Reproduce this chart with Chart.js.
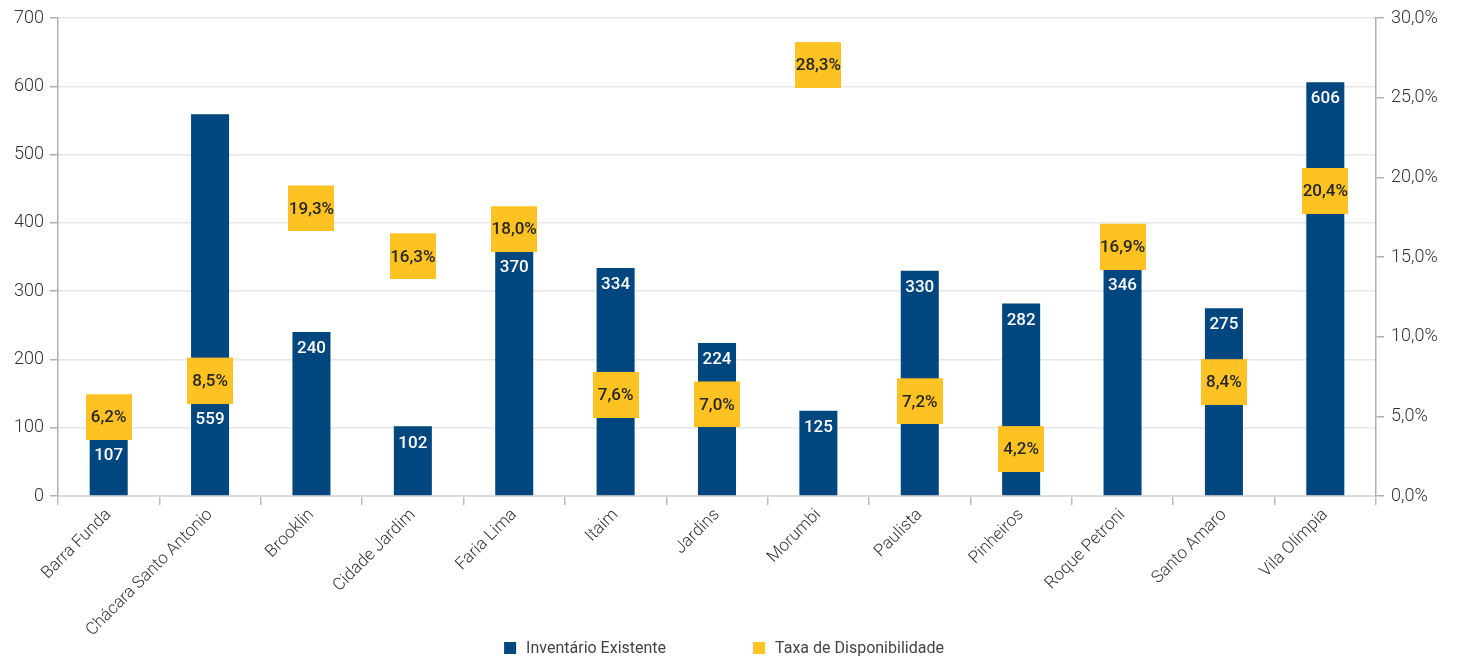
<!DOCTYPE html>
<html>
<head>
<meta charset="utf-8">
<script src="https://cdn.jsdelivr.net/npm/chart.js@4/dist/chart.umd.min.js"></script>
<style>
  html, body { margin: 0; padding: 0; background: #fff; }
  #wrap { width: 1459px; height: 661px; }
</style>
</head>
<body>
<div id="wrap"><canvas id="chart"></canvas></div>
<script>
// ---- data ----
const bairros = ['Barra Funda', 'Chácara Santo Antonio', 'Brooklin', 'Cidade Jardim', 'Faria Lima',
  'Itaim', 'Jardins', 'Morumbi', 'Paulista', 'Pinheiros', 'Roque Petroni', 'Santo Amaro', 'Vila Olímpia'];
const inventario = [107, 559, 240, 102, 370, 334, 224, 125, 330, 282, 346, 275, 606];
const taxaDisp = [6.2, 8.5, 19.3, 16.3, 18.0, 7.6, 7.0, 28.3, 7.2, 4.2, 16.9, 8.4, 20.4];
const leftTicks = [0, 100, 200, 300, 400, 500, 600, 700];
const rightTicks = [0, 5, 10, 15, 20, 25, 30];

const BLUE = '#00467f';
const YELLOW = '#fec222';
const FONT = 'Roboto';
const BOX = 46;        // yellow marker side
const DROP = 20;       // marker sits a little below its value, like the original labels
const labelBelowMarker = new Set(['Chácara Santo Antonio']);

const pct = v => v.toFixed(1).replace('.', ',') + '%';

// square marker drawn into a taller canvas so it hangs under the point
const marker = document.createElement('canvas');
marker.width = BOX;
marker.height = BOX + DROP * 2;
const mctx = marker.getContext('2d');
mctx.fillStyle = YELLOW;
mctx.fillRect(0, DROP * 2, BOX, BOX);

const valueLabels = {
  id: 'valueLabels',
  afterDatasetsDraw(chart) {
    const ctx = chart.ctx;
    const bars = chart.getDatasetMeta(0).data;
    const pts = chart.getDatasetMeta(1).data;
    ctx.save();
    ctx.textAlign = 'center';
    ctx.textBaseline = 'middle';
    ctx.font = `500 17px ${FONT}`;
    ctx.fillStyle = '#ffffff';
    bars.forEach((bar, i) => {
      const boxTop = pts[i].y + DROP - BOX / 2;
      const boxBottom = boxTop + BOX;
      let y = bar.y + 17;
      // move the label under the marker when they would collide
      if (labelBelowMarker.has(bairros[i]) || (y + 9 > boxTop && y - 9 < boxBottom)) y = boxBottom + 16;
      ctx.fillText(String(inventario[i]), bar.x, y);
    });
    ctx.fillStyle = '#262626';
    pts.forEach((p, i) => {
      ctx.fillText(pct(taxaDisp[i]), p.x, p.y + DROP + 1);
    });
    ctx.restore();
  }
};

const bottomLegend = {
  id: 'bottomLegend',
  afterDraw(chart) {
    const ctx = chart.ctx;
    const items = chart.data.datasets.map(d => ({ text: d.label, color: d.legendColor }));
    ctx.save();
    ctx.font = `16px ${FONT}`;
    ctx.textBaseline = 'middle';
    const gap = 87, sq = 12, sp = 10;
    const widths = items.map(it => sq + sp + ctx.measureText(it.text).width);
    const total = widths.reduce((a, b) => a + b, 0) + gap * (items.length - 1);
    let x = 724 - total / 2;
    const y = 648;
    items.forEach((it, i) => {
      ctx.fillStyle = it.color;
      ctx.fillRect(x, y - sq / 2, sq, sq);
      ctx.fillStyle = '#444444';
      ctx.fillText(it.text, x + sq + sp, y + 1);
      x += widths[i] + gap;
    });
    ctx.restore();
  }
};

new Chart(document.getElementById('chart'), {
  type: 'bar',
  data: {
    labels: bairros,
    datasets: [
      {
        type: 'bar',
        label: 'Inventário Existente',
        data: inventario,
        backgroundColor: BLUE,
        legendColor: BLUE,
        categoryPercentage: 1,
        barPercentage: 0.375,
        yAxisID: 'y',
        order: 2
      },
      {
        type: 'line',
        label: 'Taxa de Disponibilidade',
        data: taxaDisp,
        showLine: false,
        pointStyle: marker,
        legendColor: YELLOW,
        yAxisID: 'y2',
        order: 1
      }
    ]
  },
  options: {
    responsive: true,
    maintainAspectRatio: false,
    animation: false,
    events: [],
    layout: { padding: { top: 18, left: 0, right: 0, bottom: 0 } },
    plugins: {
      legend: { display: false },
      tooltip: { enabled: false }
    },
    scales: {
      x: {
        offset: true,
        afterFit: s => { s.height = 165; },
        border: { color: '#dcdcdc', width: 2 },
        grid: { display: true, drawOnChartArea: false, offset: true, tickLength: 9, color: '#bdbdbd', lineWidth: 1.5 },
        ticks: {
          color: '#333333',
          font: { family: FONT, size: 17, weight: 300 },
          minRotation: 45,
          maxRotation: 45,
          autoSkip: false,
          padding: 0
        }
      },
      y: {
        position: 'left',
        min: leftTicks[0],
        max: leftTicks[leftTicks.length - 1],
        afterFit: s => { s.width = 58; },
        afterBuildTicks: s => { s.ticks = leftTicks.map(v => ({ value: v })); },
        border: { color: '#b0b0b0', width: 1.5 },
        grid: { color: '#e6e6e6', lineWidth: 1.5, tickLength: 8, tickColor: '#b0b0b0' },
        ticks: { color: '#333333', font: { family: FONT, size: 18, weight: 300 }, padding: 6 }
      },
      y2: {
        position: 'right',
        min: rightTicks[0],
        max: rightTicks[rightTicks.length - 1],
        afterFit: s => { s.width = 83; },
        afterBuildTicks: s => { s.ticks = rightTicks.map(v => ({ value: v })); },
        border: { color: '#b0b0b0', width: 1.5 },
        grid: { drawOnChartArea: false, tickLength: 8, color: '#b0b0b0', lineWidth: 1.5 },
        ticks: { color: '#333333', font: { family: FONT, size: 18, weight: 300 }, padding: 7, callback: v => pct(v) }
      }
    }
  },
  plugins: [valueLabels, bottomLegend]
});
</script>
</body>
</html>
